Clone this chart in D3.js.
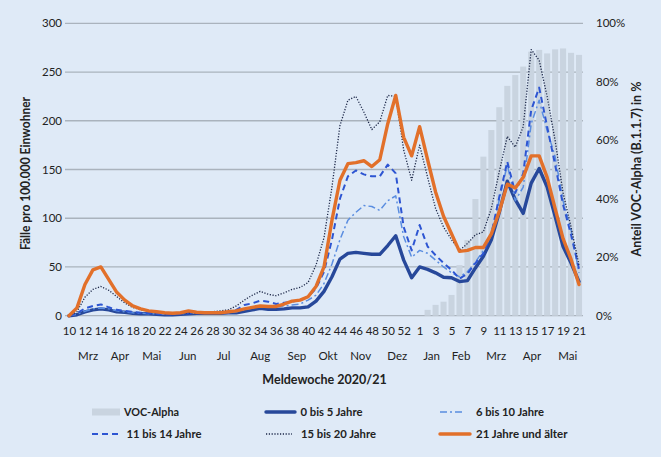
<!DOCTYPE html>
<html><head><meta charset="utf-8">
<script src="https://cdn.jsdelivr.net/npm/d3@7"></script>
<style>
html,body{margin:0;padding:0;background:#dfeaf7;}
svg{display:block;font-family:Lato,"Open Sans",sans-serif;}
</style>
</head><body>
<svg id="chart" width="661" height="457"></svg>
<script>
// Meldewochen 10/2020 ... 53/2020, 1/2021 ... 21/2021
const weeks = [10,11,12,13,14,15,16,17,18,19,20,21,22,23,24,25,26,27,28,29,30,31,32,33,34,35,36,37,38,39,40,41,42,43,44,45,46,47,48,49,50,51,52,53,
  1,2,3,4,5,6,7,8,9,10,11,12,13,14,15,16,17,18,19,20,21];

// Anteil VOC-Alpha in %
const vocAlpha = [null,null,null,null,null,null,null,null,null,null,null,null,null,null,null,null,null,null,null,null,null,null,
  null,null,null,null,null,null,null,null,null,null,null,null,null,null,null,null,null,null,null,null,null,null,null,
  2,3.7,4.8,7.1,17.3,25.9,39.9,54.4,63.5,71.3,78.6,82.3,85.2,90.3,90.9,89.7,91.1,91.4,89.9,89.2];

const age0to5 = [0,1,4,6,7,6,4,3.5,2.5,2, 2,1.5,1,1,1.5,2,2.5,2.5,2.5,2.5, 3,3,4.5,6,7.5,6.5,6.5,7,8,8,
  9,15,25,40,58,64,65,64,63,63, 72,82,57,39,
  50,47.5,44,39.5,39,35,36,49,61,78, 106,138,119,105,136,151,132,102,71,54,35];
const age6to10 = [0,1.5,4.5,7,8,7,5,4,3,2.5, 2,2,1.5,1.5,2,2.5,2.5,3,3,3, 3,4,6,8,10,10,9.5,10,11,12,
  16,21,33,53,78,98,106,113,112,108, 118,123,81,60,
  67,64,57,50,44,40,45,55,67,83, 119,155,118,132,197,221,190,163,118,88,44];
const age11to14 = [0,2.5,7.5,10,11.6,8.6,6,5,4,3, 2.5,2,1.5,1.5,2,2.5,2.5,3,3,3, 3.5,6,11,12.7,15.4,14.4,12,13.3,14.4,16,
  19.5,28,45,78,120,143,149,145,143,143, 155,146,91,67,
  93,71,62,54,47,38,43,54,64,84, 122,158,126,146,211,234,194,155,114,83,48];
const age15to20 = [0,4,19,27,30,26,19.5,13,8.5,6, 5,4,3,3,3,3,3,3.5,4,5, 6,10,16,21,25,22,20.5,23.5,27,29,
  34,52,80,132,195,221,225,209,191,199, 226,225,170,139,
  175,142,110,91,78,67,74,83,86,110, 148,184,173,194,273,262,225,180,126,91,52];
const age21plus = [0,8,32,47,50,37,24,16,10,7, 5,4,3,2.5,3,5,3.5,3,3,3, 4,5,7,8.5,10,9.5,9.5,12,15,16,
  19.5,30,50,98,139,156,157,159,153,160, 197,226,183,164,
  194,160,127,102,84,66,67,70,70,84, 107,135,131,142,164,164,142,110,79,58,32];

const leftTicks = [0,50,100,150,200,250,300];
const rightTicks = [0,20,40,60,80,100];
const monthLabels = ["Mrz","Apr","Mai","Jun","Jul","Aug","Sep","Okt","Nov","Dez","Jan","Feb","Mrz","Apr","Mai"];
// month label anchor, as fractional position on the week axis (index into weeks)
const monthAt = [2.4,6.4,10.4,14.9,19.4,24.0,28.6,32.5,36.6,41.2,45.5,49.2,53.6,58.1,62.6];

const seriesNames = ["0 bis 5 Jahre","6 bis 10 Jahre","11 bis 14 Jahre","15 bis 20 Jahre","21 Jahre und älter"];
const seriesData = [age0to5, age6to10, age11to14, age15to20, age21plus];
const seriesStyle = [
  {color:"#27489a", width:3.4, dash:null},
  {color:"#5a8de0", width:1.5, dash:"7,3,2,3"},
  {color:"#2d55d2", width:2, dash:"6,4"},
  {color:"#1c2748", width:1.3, dash:"1.2,1.6"},
  {color:"#e2702a", width:3.4, dash:null}
];

const svg = d3.select("#chart");
const W = 661, H = 457;
svg.append("rect").attr("width",W).attr("height",H).attr("fill","#dfeaf7");

const L = 65, R = 583, T = 23.3, B = 315.7;
const idx = d3.range(weeks.length);
const x = d3.scaleBand().domain(idx).range([L,R]).padding(0);
const xc = i => x(i) + x.bandwidth()/2;
const xPos = d3.scaleLinear().domain([0, weeks.length-1]).range([xc(0), xc(weeks.length-1)]);
const y = d3.scaleLinear().domain([0,300]).range([B,T]);
const y2 = d3.scaleLinear().domain([0,100]).range([B,T]);

// gridlines
svg.append("g").selectAll("line").data(leftTicks).join("line")
  .attr("x1",L).attr("x2",R).attr("y1",d=>y(d)).attr("y2",d=>y(d))
  .attr("stroke","#aab3bd").attr("stroke-width",1.3);

// VOC bars
const barW = x.bandwidth()*0.76;
svg.append("g").selectAll("rect").data(idx.filter(i=>vocAlpha[i]!=null)).join("rect")
  .attr("x", i => xc(i)-barW/2).attr("width", barW)
  .attr("y", i => y2(vocAlpha[i])).attr("height", i => B - y2(vocAlpha[i]))
  .attr("fill","#c9d4e0");

// lines
const line = d3.line().x((d,i)=>xc(i)).y(d=>y(d)).curve(d3.curveLinear);
seriesData.forEach((s,k)=>{
  const st = seriesStyle[k];
  svg.append("path").datum(s).attr("d",line).attr("fill","none")
    .attr("stroke",st.color).attr("stroke-width",st.width)
    .attr("stroke-linejoin","round").attr("stroke-linecap", st.dash? "butt":"round")
    .attr("stroke-dasharray", st.dash);
});

const txt = "#222";
// left axis
const ax = svg.append("g").attr("transform",`translate(${L},0)`)
  .call(d3.axisLeft(y).tickValues(leftTicks).tickSize(0).tickPadding(3));
ax.select(".domain").remove();
ax.selectAll("text").attr("font-size",11.5).attr("fill",txt).attr("font-family","Lato");

// right axis
const ar = svg.append("g").attr("transform",`translate(${R},0)`)
  .call(d3.axisRight(y2).tickValues(rightTicks).tickSize(0).tickPadding(13).tickFormat(d=>d+"%"));
ar.select(".domain").remove();
ar.selectAll("text").attr("font-size",11.5).attr("fill",txt).attr("font-family","Lato");

// bottom axis: week numbers
const ab = svg.append("g").attr("transform",`translate(0,${B})`)
  .call(d3.axisBottom(xPos).tickValues(idx.filter(i=>i%2===0)).tickSize(0).tickPadding(11)
    .tickFormat(i=>weeks[i]));
ab.select(".domain").remove();
ab.selectAll("text").attr("font-size",11.5).attr("fill",txt).attr("font-family","Lato");

// month row
svg.append("g").selectAll("text").data(monthLabels).join("text")
  .attr("x",(d,i)=>xPos(monthAt[i])).attr("y",359.5)
  .attr("text-anchor","middle").attr("font-size",11.5).attr("fill",txt).text(d=>d);

function fit(sel, w){
  const n = sel.node(); const cur = n.getComputedTextLength();
  if (Math.abs(cur-w)/w > 0.03) sel.attr("textLength",w).attr("lengthAdjust","spacingAndGlyphs");
  return sel;
}

// axis titles
fit(svg.append("text").attr("x",324.5).attr("y",384).attr("text-anchor","middle")
  .attr("font-size",12.5).attr("font-weight","bold").attr("fill",txt).text("Meldewoche 2020/21"),121);
fit(svg.append("text").attr("transform","translate(29.5,173.5) rotate(-90)").attr("text-anchor","middle")
  .attr("font-size",12.5).attr("font-weight","bold").attr("fill",txt).text("Fälle pro 100.000 Einwohner"),153);
fit(svg.append("text").attr("transform","translate(640.5,169) rotate(-90)").attr("text-anchor","middle")
  .attr("font-size",12.5).attr("font-weight","bold").attr("fill",txt).text("Anteil VOC-Alpha (B.1.1.7) in %"),172);

// legend
const lg = svg.append("g");
const legendItems = [
  {type:"bar", label:"VOC-Alpha", x0:92, x1:120, tx:124, ty:412, tw:55},
  {type:0, label:seriesNames[0], x0:266, x1:295, tx:300.5, ty:412, tw:62},
  {type:1, label:seriesNames[1], x0:440, x1:464, tx:476, ty:412, tw:68},
  {type:2, label:seriesNames[2], x0:92, x1:120, tx:126.5, ty:434, tw:75},
  {type:3, label:seriesNames[3], x0:266, x1:292, tx:301, ty:434, tw:75},
  {type:4, label:seriesNames[4], x0:440, x1:470, tx:476, ty:434, tw:91.5}
];
legendItems.forEach(it=>{
  if (it.type==="bar") {
    lg.append("rect").attr("x",it.x0).attr("y",it.ty-3.5).attr("width",it.x1-it.x0).attr("height",7).attr("fill","#c9d4e0");
  } else {
    const st = seriesStyle[it.type];
    lg.append("line").attr("x1",it.x0).attr("x2",it.x1).attr("y1",it.ty).attr("y2",it.ty)
      .attr("stroke",st.color).attr("stroke-width",st.width).attr("stroke-dasharray",st.dash)
      .attr("stroke-linecap", st.dash? "butt":"round");
  }
  fit(lg.append("text").attr("x",it.tx).attr("y",it.ty).attr("dy","0.35em")
    .attr("font-size",12).attr("font-weight","bold").attr("fill",txt).text(it.label), it.tw);
});
</script>
</body></html>
